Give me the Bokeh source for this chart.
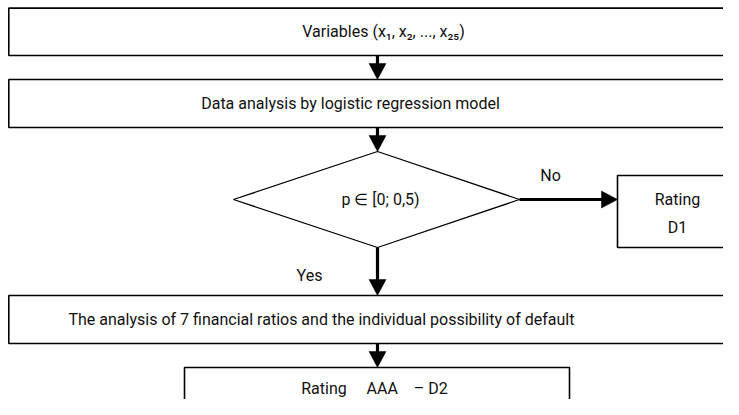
from bokeh.plotting import figure
from bokeh.models import Range1d
from bokeh.core.properties import value
from bokeh.embed import file_html
from bokeh.resources import INLINE

# ---- content (texts of the flowchart) ----
box_labels = [
    "Variables (x\u2081, x\u2082, ..., x\u2082\u2085)",
    "Data analysis by logistic regression model",
    "The analysis of 7 financial ratios and the individual possibility of default",
    "Rating\u00a0\u00a0\u00a0\u00a0\u00a0AAA\u00a0\u00a0\u00a0\u00a0\u2013 D2",
]
decision_label = "p \u2208 [0; 0,5)"
branch_labels = ["No", "Yes"]
outcome_lines = ["Rating", "D1"]

# ---- layout (pixel coordinates of the picture) ----
W, H = 723, 399
boxes = [  # left, top, right, bottom
    (8.3, 7.6, 760, 55),
    (8.3, 79, 760, 127),
    (8.3, 295, 760, 343),
    (184, 367, 569, 440),
]
box_text_pos = [(383, 31, "center"), (350, 103, "center"), (68, 319, "left"), (374, 388, "center")]
diamond = dict(cx=376, cy=199, hw=143, hh=48)
outcome_box = (617, 175, 760, 247)
font = value("Roboto")
FS = "16px"

p = figure(width=W, height=H, x_range=Range1d(0, W), y_range=Range1d(H, 0),
           toolbar_location=None, output_backend="svg", min_border=0,
           x_axis_type=None, y_axis_type=None)
p.grid.visible = False
p.outline_line_color = None
p.background_fill_color = "white"

# boxes
p.quad(left=[b[0] for b in boxes] + [outcome_box[0]],
       right=[b[2] for b in boxes] + [outcome_box[2]],
       top=[b[1] for b in boxes] + [outcome_box[1]],
       bottom=[b[3] for b in boxes] + [outcome_box[3]],
       fill_color="white", line_color="black", line_width=1.6)

# diamond
cx, cy, hw, hh = diamond["cx"], diamond["cy"], diamond["hw"], diamond["hh"]
p.patch([cx + 1, cx + hw, cx + 1, cx - hw], [cy - hh, cy, cy + hh, cy],
        fill_color="white", line_color="black", line_width=1.3)

# arrows (stem + triangular head)
ax = 377
HL, HWd = 16, 8.5
vert_arrows = [(boxes[0][3], boxes[1][1]), (boxes[1][3], cy - hh),
               (cy + hh, boxes[2][1]), (boxes[2][3], boxes[3][1])]
p.segment(x0=[ax] * 4, y0=[a for a, b in vert_arrows], x1=[ax] * 4,
          y1=[b - HL + 1 for a, b in vert_arrows], line_color="black", line_width=3.2)
p.patches(xs=[[ax - HWd, ax + HWd, ax] for _ in vert_arrows],
          ys=[[b - HL, b - HL, b] for a, b in vert_arrows],
          fill_color="black", line_color="black", line_width=0.5)
# horizontal arrow "No"
hx0, hx1 = cx + hw, outcome_box[0]
p.segment(x0=[hx0], y0=[cy], x1=[hx1 - HL + 1], y1=[cy], line_color="black", line_width=3.2)
p.patch([hx1 - HL, hx1 - HL, hx1], [cy - HWd, cy + HWd, cy],
        fill_color="black", line_color="black", line_width=0.5)

# texts
for lab, (tx, ty, al) in zip(box_labels, box_text_pos):
    p.text(x=[tx], y=[ty], text=[lab], text_font=font, text_font_size=FS,
           text_align=al, text_baseline="middle", text_color="#111111")
p.text(x=[cx + 4], y=[cy], text=[decision_label], text_font=font, text_font_size=FS,
       text_align="center", text_baseline="middle", text_color="#111111")
p.text(x=[550, 309], y=[175, 275], text=branch_labels, text_font=font, text_font_size=FS,
       text_align="center", text_baseline="middle", text_color="#111111")
p.text(x=[677, 677], y=[199, 227], text=outcome_lines, text_font=font, text_font_size=FS,
       text_align="center", text_baseline="middle", text_color="#111111")

open("out.html", "w").write(file_html(p, INLINE))
